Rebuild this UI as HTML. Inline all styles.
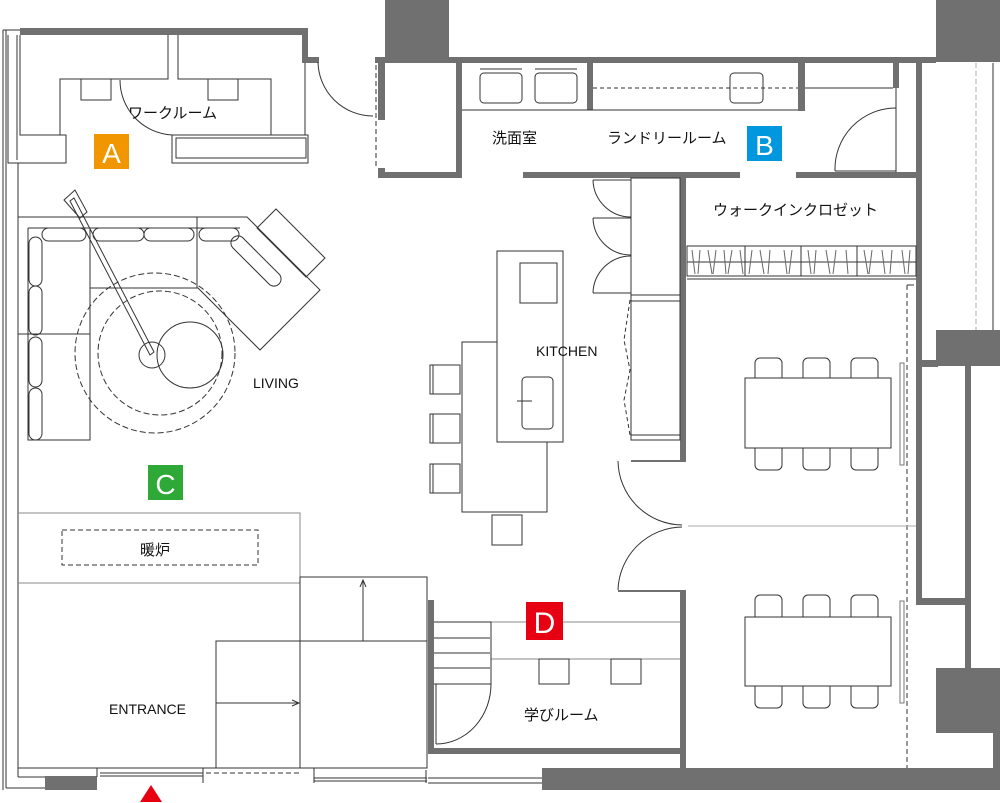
<!DOCTYPE html>
<html><head><meta charset="utf-8"><style>
html,body{margin:0;padding:0;background:#fff;}
svg{display:block;}
text{font-family:"Liberation Sans","Noto Sans CJK JP",sans-serif;fill:#111;}
</style></head><body>
<svg width="1000" height="803" viewBox="0 0 1000 803" xmlns="http://www.w3.org/2000/svg">
<g fill="#707070">
<!-- work room top wall -->
<rect x="20" y="28" width="288" height="7"/>
<rect x="302" y="28" width="6" height="35"/>
<rect x="302" y="57" width="17" height="6"/>
<!-- block top -->
<rect x="385" y="0" width="64" height="62"/>
<rect x="375" y="57" width="561" height="6"/>
<rect x="936" y="0" width="64" height="62"/>
<rect x="378" y="57" width="7" height="63"/>
<rect x="378" y="168" width="7" height="10"/>
<rect x="378" y="172" width="84" height="6"/>
<rect x="456" y="57" width="6" height="121"/>
<rect x="587" y="62" width="6" height="48"/>
<rect x="798" y="62" width="7" height="49"/>
<rect x="893" y="62" width="6" height="26"/>
<!-- laundry bottom walls -->
<rect x="523" y="172" width="217" height="6"/>
<rect x="796" y="172" width="125" height="6"/>
<!-- kitchen/dining wall -->
<rect x="680" y="172" width="6" height="289"/>
<rect x="631" y="460" width="55" height="2"/>
<rect x="680" y="591" width="6" height="179"/>
<rect x="618" y="590" width="68" height="2"/>
<!-- right walls -->
<rect x="916" y="62" width="6" height="543"/>
<rect x="916" y="598" width="54" height="7"/>
<rect x="965" y="363" width="6" height="306"/>
<rect x="916" y="360" width="22" height="7"/>
<rect x="936" y="330" width="64" height="36"/>
<rect x="936" y="668" width="64" height="65"/>
<rect x="993" y="668" width="7" height="102"/>
<!-- bottom -->
<rect x="542" y="768" width="458" height="22"/>
<rect x="428" y="600" width="6" height="153"/>
<rect x="428" y="748" width="258" height="6"/>
<rect x="45" y="776" width="52" height="14"/>
</g>
<g fill="none" stroke="#333" stroke-width="1">
<!-- left exterior -->
<line x1="3" y1="30" x2="3" y2="790"/><line x1="6" y1="30" x2="6" y2="788"/>
<line x1="18" y1="163" x2="18" y2="777"/>
<line x1="6" y1="788" x2="45" y2="788"/>
<line x1="3" y1="30" x2="20" y2="30"/>
<!-- work room -->
<path d="M8 35 V163 H66 V135 H20 V35"/>
<path d="M17 35 V160"/>
<path d="M60 135 V79 H168 V35 M178 35 V79 H271 V135"/>
<path d="M81 79 V100 H111 V79 M208 79 V100 H238 V79"/>
<rect x="172" y="135" width="136" height="28"/>
<rect x="176" y="138" width="130" height="20"/>
<line x1="305" y1="63" x2="305" y2="135"/>
<path d="M120 80 A55 55 0 0 0 172 135"/>
<path d="M318 62 A55 55 0 0 0 373 116"/>
<line x1="376" y1="65" x2="376" y2="168" stroke-dasharray="5,3"/>
<!-- sinks -->
<rect x="480" y="73" width="42" height="30" rx="4"/><rect x="535" y="73" width="42" height="30" rx="4"/>
<line x1="480" y1="69" x2="522" y2="69"/><line x1="535" y1="69" x2="577" y2="69"/>
<line x1="462" y1="110" x2="798" y2="110"/>
<line x1="593" y1="88" x2="798" y2="88" stroke-dasharray="4,3"/>
<rect x="730" y="73" width="33" height="30" rx="4"/>
<line x1="805" y1="88" x2="893" y2="88"/>
<line x1="896" y1="88" x2="896" y2="172"/>
<path d="M835 171 A61 61 0 0 1 896 108"/>
<line x1="835" y1="171" x2="896" y2="171"/>
<!-- WIC rail -->
<rect x="687" y="246" width="229" height="30"/>
<line x1="687" y1="262" x2="916" y2="262"/>
<line x1="687" y1="279" x2="916" y2="279"/>
<line x1="745" y1="246" x2="745" y2="276"/><line x1="801" y1="246" x2="801" y2="276"/><line x1="857" y1="246" x2="857" y2="276"/>
<g stroke="#666">
<path d="M692 250 l3 24 M700 250 l-2 24 M708 250 l4 24 M716 250 l-3 24 M724 250 l2 24 M732 250 l-4 24 M740 250 l3 24 M752 250 l-3 24 M760 250 l4 24 M770 250 l-2 24 M784 250 l3 24 M792 250 l-3 24 M808 250 l3 24 M816 250 l-2 24 M826 250 l4 24 M836 250 l-3 24 M846 250 l2 24 M864 250 l4 24 M872 250 l-3 24 M882 250 l3 24 M892 250 l-2 24 M902 250 l3 24 M910 250 l-2 24"/>
</g>
<line x1="907" y1="285" x2="907" y2="768" stroke-dasharray="5,3"/>
<line x1="907" y1="285" x2="914" y2="285"/>
<line x1="976" y1="63" x2="976" y2="330" stroke="#aaa" stroke-dasharray="5,3"/>
<line x1="993" y1="63" x2="993" y2="330"/>
<!-- kitchen cabinets -->
<rect x="631" y="178" width="49" height="262"/>
<line x1="631" y1="295" x2="680" y2="295"/><line x1="631" y1="301" x2="680" y2="301"/>
<line x1="631" y1="435" x2="680" y2="435"/>
<path d="M593 180 H631 M593 180 A38 38 0 0 0 631 217 M593 218 H631 M593 218 A38 38 0 0 0 631 255 M593 293 H631 M593 293 A38 38 0 0 1 631 256"/>
<path d="M630 300 L624 340 L630 370 L624 400 L630 435" stroke-dasharray="4,3"/>
<!-- island -->
<rect x="497" y="251" width="66" height="191"/>
<rect x="520" y="263" width="37" height="40"/>
<rect x="522" y="377" width="31" height="52" rx="4"/>
<line x1="517" y1="401" x2="532" y2="401"/>
<path d="M497 342 H462 V512 H547 V442"/>
<rect x="430" y="365" width="30" height="29"/><rect x="430" y="414" width="30" height="29"/><rect x="430" y="464" width="30" height="29"/>
<line x1="433" y1="365" x2="433" y2="394"/><line x1="433" y1="414" x2="433" y2="443"/><line x1="433" y1="464" x2="433" y2="493"/>
<rect x="492" y="515" width="30" height="30"/>
<!-- double doors -->
<path d="M618 461 A65 65 0 0 0 682 525 M618 590 A65 65 0 0 1 682 527"/>
<line x1="688" y1="526" x2="916" y2="526" stroke="#aaa"/>
<!-- dining -->
<rect x="745" y="378" width="146" height="70"/>
<rect x="745" y="617" width="146" height="69"/>
<path d="M755 378 V363 a5 5 0 0 1 5 -5 h17 a5 5 0 0 1 5 5 V378 M803 378 V363 a5 5 0 0 1 5 -5 h17 a5 5 0 0 1 5 5 V378 M851 378 V363 a5 5 0 0 1 5 -5 h17 a5 5 0 0 1 5 5 V378"/>
<path d="M755 448 V465 a5 5 0 0 0 5 5 h17 a5 5 0 0 0 5 -5 V448 M803 448 V465 a5 5 0 0 0 5 5 h17 a5 5 0 0 0 5 -5 V448 M851 448 V465 a5 5 0 0 0 5 5 h17 a5 5 0 0 0 5 -5 V448"/>
<path d="M755 617 V600 a5 5 0 0 1 5 -5 h17 a5 5 0 0 1 5 5 V617 M803 617 V600 a5 5 0 0 1 5 -5 h17 a5 5 0 0 1 5 5 V617 M851 617 V600 a5 5 0 0 1 5 -5 h17 a5 5 0 0 1 5 5 V617"/>
<path d="M755 686 V703 a5 5 0 0 0 5 5 h17 a5 5 0 0 0 5 -5 V686 M803 686 V703 a5 5 0 0 0 5 5 h17 a5 5 0 0 0 5 -5 V686 M851 686 V703 a5 5 0 0 0 5 5 h17 a5 5 0 0 0 5 -5 V686"/>
<rect x="900" y="363" width="4" height="102" stroke="#777"/>
<rect x="900" y="601" width="4" height="102" stroke="#777"/>
<!-- study room -->
<line x1="491" y1="622" x2="680" y2="622" stroke="#888"/>
<line x1="491" y1="659" x2="680" y2="659" stroke="#888"/>
<rect x="539" y="659" width="30" height="25"/><rect x="611" y="659" width="30" height="25"/>
<path d="M434 622 H491 V684 H434 M434 638 H490 M434 653 H490 M434 668 H490"/>
<path d="M436 684 V744 M436 744 A55 60 0 0 0 491 684"/>
<!-- fireplace / entrance -->
<path d="M18 513 H300 V583 H18" stroke="#888"/>
<rect x="62" y="530" width="196" height="35" stroke-dasharray="5,3"/>
<rect x="300" y="577" width="127" height="191"/>
<rect x="216" y="641" width="84" height="127"/>
<line x1="300" y1="641" x2="427" y2="641"/>
<path d="M363 641 V580 M360 587 L363 580 L366 587"/>
<path d="M216 703 H298 M292 700 L299 703 L292 706"/>
<path d="M18 768 H427 M18 777 H45 M97 768 V777 M100 773 H203 M100 776 H203 M203 776 V783 M203 768 V776 M206 768 H312 M314 768 V783 M314 778 H427 M314 781 H427 M426 770 V783 M428 778 H542 M428 783 H542"/>
<line x1="206" y1="773" x2="302" y2="773" stroke-dasharray="5,3"/>
<!-- sofa -->
<path d="M18 217 H247 L320 290 L260 350 L198 288 H90 V334 H18"/>
<path d="M28 228 H240"/>
<path d="M28 228 V440 H90 V334"/>
<path d="M90 228 V288 M197 217 V288 M18 334 H90"/>
<rect x="42" y="228" width="44" height="13" rx="6.5"/><rect x="93" y="228" width="51" height="13" rx="6.5"/><rect x="144" y="228" width="50" height="13" rx="6.5"/><rect x="199" y="228" width="40" height="13" rx="6.5"/>
<rect x="29" y="237" width="13" height="49" rx="6.5"/><rect x="29" y="286" width="13" height="49" rx="6.5"/><rect x="29" y="337" width="13" height="50" rx="6.5"/><rect x="29" y="388" width="13" height="52" rx="6.5"/>
<path d="M243 238 l36 36 a7 7 0 0 1 -10 10 l-36 -36 a7 7 0 0 1 10 -10z"/>
<path d="M276 209 L325 258 L306 277 L257 228z"/>
<circle cx="160" cy="353" r="62" stroke-dasharray="6,3"/>
<circle cx="155" cy="353" r="80" stroke-dasharray="6,3"/>
<circle cx="190" cy="355" r="33"/>
<circle cx="152" cy="355" r="13"/>
<path d="M64 200 L75 190 L87 212 L80 218z"/>
<path d="M70 201 L74 198 L154 352 L150 355z"/>
</g>
<!-- labels -->
<rect x="94" y="134" width="35" height="35" fill="#F29600"/>
<text x="111.5" y="163" font-size="28" text-anchor="middle" style="fill:#fff">A</text>
<rect x="747" y="126" width="35" height="35" fill="#0097DE"/>
<text x="764.5" y="155" font-size="28" text-anchor="middle" style="fill:#fff">B</text>
<rect x="148" y="465" width="35" height="35" fill="#2EA836"/>
<text x="165.5" y="494" font-size="28" text-anchor="middle" style="fill:#fff">C</text>
<rect x="526" y="602" width="37" height="38" fill="#E60012"/>
<text x="544.5" y="633" font-size="30" text-anchor="middle" style="fill:#fff">D</text>
<polygon points="151,785 140,802 162,802" fill="#E60012"/>
<g font-size="15">
<text x="128" y="118">ワークルーム</text>
<text x="492" y="143">洗面室</text>
<text x="607" y="143">ランドリールーム</text>
<text x="713" y="215">ウォークインクロゼット</text>
<text x="536" y="356" font-size="14">KITCHEN</text>
<text x="253" y="388" font-size="14">LIVING</text>
<text x="140" y="555">暖炉</text>
<text x="109" y="714" font-size="14">ENTRANCE</text>
<text x="524" y="720">学びルーム</text>
</g>
</svg>
</body></html>
